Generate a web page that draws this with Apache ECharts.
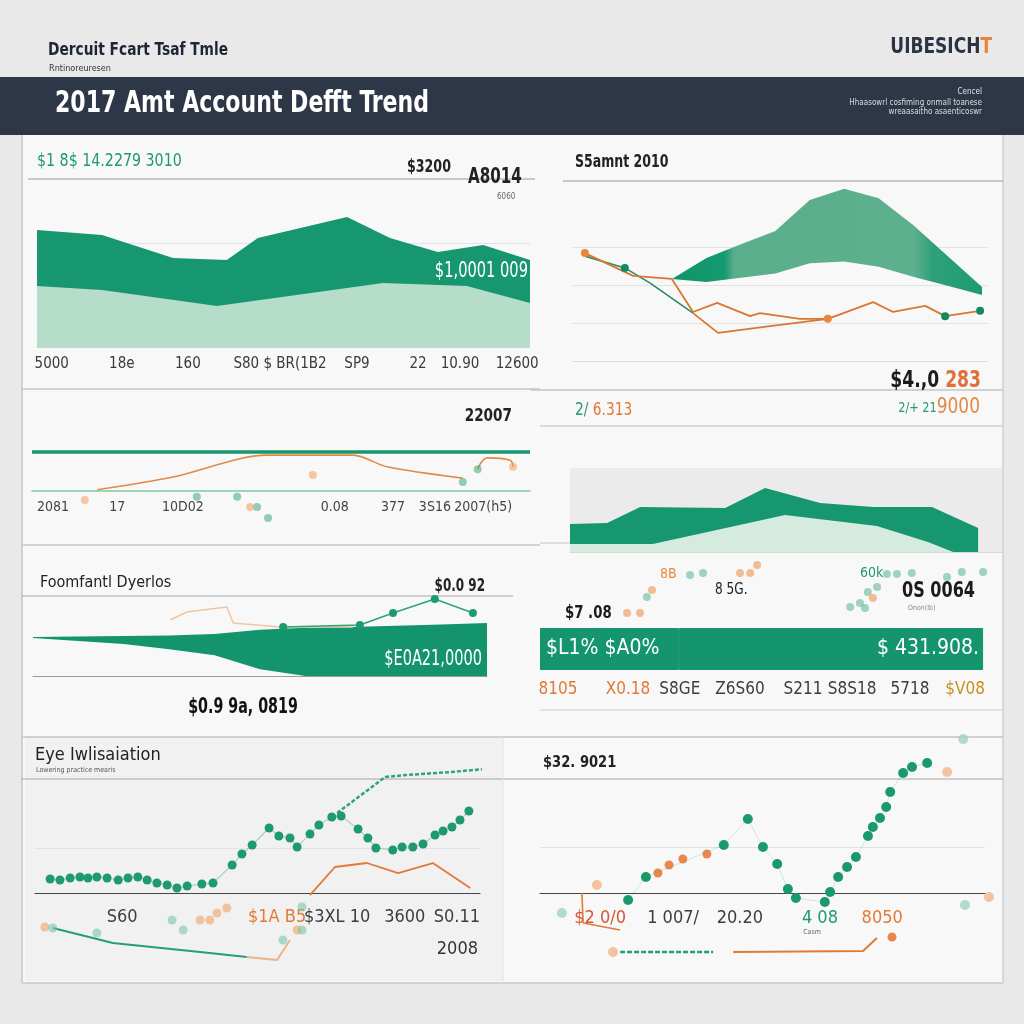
<!DOCTYPE html>
<html><head><meta charset="utf-8">
<script src="https://cdn.jsdelivr.net/npm/echarts@6/dist/echarts.min.js"></script>
<style>html,body{margin:0;padding:0;background:#e9e9ea}#c{width:1024px;height:1024px}</style>
</head><body><div id="c"></div>
<script>
// ---------------- DATA ----------------
// Panel A
const areaA_upper = [[0,74.5],[13.2,71.3],[27.6,56.7],[38.5,55.4],[44.8,69.4],[62.9,82.8],[71.6,69.4],[81.3,60.5],[90.5,65],[100,55.4]];
const areaA_lower = [[0,38.9],[13.2,36.3],[36.5,26.1],[70.2,40.8],[87.2,38.9],[100,28]];
const labelsA = ['5000','18e','160','S80 $ BR(1B2','SP9','22','10.90','12600'];
const labelPosA = [3,17.2,30.6,49.3,64.9,77.3,85.8,97.4];

// Panel B
const bandB_steps = ['b1','b2','b3','b4','b5','b6','b7','b8','b9','b10'];
const bandB_base = [2.16,2.08,2.19,2.30,2.57,2.62,2.48,2.22,1.98,1.74];
const bandB_height = [0,0.63,0.88,1.12,1.67,1.91,1.80,1.36,0.78,0.21];
const lineB_orange = [[3.1,2.84],[14.7,2.24],[24,2.16],[29.1,1.29],[34.9,1.53],[42.8,1.18],[45.2,1.26],[54.8,1.11],[61.5,1.11],[72.4,1.55],[77.2,1.29],[84.9,1.45],[89.7,1.18],[98.1,1.32]];
const lineB_green = [[3.1,2.76],[12.7,2.45],[18.8,2.05],[29.1,1.26]];
const lineB_low = [[29.1,1.26],[35.1,0.74],[47.6,0.92],[61.5,1.11]];
const dotsB_orange = [[3.1,2.84],[61.5,1.11]];
const dotsB_green = [[12.7,2.45],[89.7,1.18],[98.1,1.32]];

// Panel C
const lineC_target = [[0,1],[100,1]];
const lineC_orange = [[13.1,0.03],[28.3,0.36],[47.2,0.92],[64.5,0.92],[71.3,0.62],[86.5,0.33]];
const lineC_tail = [[89.5,0.56],[91.4,0.85],[96,0.79],[96.6,0.62]];
const dotsC_green = [[86.5,0.23],[89.5,0.56],[33.1,-0.15],[41.2,-0.15],[45.2,-0.41],[47.4,-0.69]];
const dotsC_orange = [[43.8,-0.41],[10.6,-0.23],[56.4,0.41],[96.6,0.62]];
const labelsC = ['2081','17','10D02','0.08','377','3S16','2007(h5)'];
const labelPosC = [4.2,17.1,30.3,60.8,72.5,80.9,90.6];

// Panel D
const areaD_upper = [[0,33.3],[9.1,34.5],[17.2,53.6],[38,52.4],[47.8,76.2],[61.3,58.3],[74.3,53.6],[88.7,53.6],[97.3,34.5],[100,28.6]];
const areaD_lower = [[0,9.5],[20.3,9.5],[52.7,44],[75.2,31],[87.7,11.9],[93.9,0],[100,0]];
const dotsD_green = [[35.2,74.3],[32.4,71.4],[23.1,40],[74.9,72.9],[77.1,72.9],[80.3,74.3],[87.9,68.6],[91.1,75.7],[95.7,75.7],[72.8,54.3],[70.8,47.1],[69.1,31.4],[70.2,24.3],[67,25.7]];
const dotsD_orange = [[46.9,85.7],[45.4,74.3],[43.2,74.3],[24.2,50],[18.8,17.1],[21.6,17.1],[71.9,38.6]];

// Horizontal bar
const barSegments = [30, 65.7];
const barTexts = ['$L1% $A0%', '$ 431.908.'];
const labelsBar = ['8105','X0.18','S8GE','Z6S60','S211','S8S18','5718','$V08'];
const labelPosBar = [3.9,19,30.2,43.2,56.8,67.4,79.9,91.8];
const labelColBar = ['o','o','k','k','k','k','k','y'];

// Panel E
const bandE_steps = ['e1','e2','e3','e4','e5','e6','e7','e8','e9','e10','e11'];
const bandE_base = [47.5,43.75,39.9,33.5,25.9,8.4,0,0,0,0,0];
const bandE_height = [1.25,5.65,10.2,17.25,26.7,49.35,60.4,61.1,62.75,64.5,66.25];
const lineE_green = [[55.1,61.25],[72,63.75],[79.3,78.75],[88.5,96.25],[96.9,78.75]];
const lineE_faint = [[30.2,70],[33.9,80],[42.7,86.25],[44.1,66.25],[54.4,61.25],[70.5,61.25]];

// Panel F
const dotsF_green = [[3.4,12.3],[5.6,11.4],[7.9,13.2],[10.1,14],[11.9,13.2],[13.9,14],[16.2,13.2],[18.7,11.4],[20.9,13.2],[23.1,14],[25.2,11.4],[27.4,8.8],[29.7,7],[31.9,4.4],[34.2,6.1],[37.5,7.9],[40,8.8],[44.3,24.6],[46.5,34.2],[48.8,42.1],[52.6,57],[54.8,50],[57.3,48.2],[58.9,40.4],[61.8,51.8],[63.8,59.6],[66.7,66.7],[68.8,67.5],[72.6,56.1],[74.8,48.2],[76.6,39.5],[80.4,37.7],[82.5,40.4],[84.9,40.4],[87.2,43],[89.9,50.9],[91.7,54.4],[93.7,57.9],[95.5,64],[97.5,71.9]];
const lineF_top = [[67.9,70.2],[78.7,101.8],[83.6,103.5],[93.3,106.1],[103.8,109.6]];
const lineF_orange = [[61.8,-1.8],[67.4,22.8],[74.6,26.3],[81.6,17.5],[89.4,26.3],[97.8,4.4]];
const lineF_low = [[4,-30.7],[17.5,-43.9],[37.1,-51.8],[47.6,-56.1]];
const lineF_lowOrange = [[47.6,-56.1],[54.4,-58.8],[57.3,-41.2]];
const dotsF_lightOrange = [[2.2,-29.8],[39.3,-23.7],[37.1,-23.7],[40.9,-17.5],[43.1,-13.2],[58.9,-32.5]];
const dotsF_lightGreen = [[4,-30.7],[13.9,-35.1],[30.8,-23.7],[33.3,-32.5],[60,-32.5],[55.7,-41.2],[60,-12.3]];
const labelsF = ['S60','$1A B5','$3XL 10','3600','S0.11'];
const labelPosF = [19.6,54.4,67.9,83.1,94.8];
const labelColF = ['k','o','k','k','k'];

// Panel G
const dotsG_green = [[19.8,-6.1],[23.8,14],[41.3,42.1],[46.7,64.9],[50.1,40.4],[53.3,25.4],[55.7,3.5],[57.5,-4.4],[64,-7.9],[65.2,0.9],[67,14],[69,22.8],[71,31.6],[73.7,50],[74.8,57.9],[76.4,65.8],[77.8,75.4],[78.7,88.6],[81.6,105.3],[83.6,110.5],[87,114]];
const dotsG_orange = [[26.5,17.5],[29,24.6],[32.1,29.8],[37.5,34.2],[79.1,-38.6]];
const dotsG_lightOrange = [[91.5,106.1],[100.9,-3.5],[12.8,7],[16.4,-51.8]];
const dotsG_lightGreen = [[95.5,-10.5],[4.9,-17.5],[95.1,135]];
const lineG_low = [[18,-51.8],[38.9,-51.8]];
const lineG_lowOrange = [[43.4,-51.8],[72.6,-50.9],[75.7,-39.5]];
const lineG_left = [[9.4,0],[9.7,-26.3],[18,-32.5]];
const labelsG = ['$2 0/0','1 007/','20.20','4 08','8050'];
const labelPosG = [13.5,29.9,44.9,62.9,76.9];
const labelColG = ['r','k','k','g','o'];

// ---------------- CHART ----------------
const F = '"Liberation Sans Narrow","DejaVu Sans Condensed",Roboto,sans-serif';
const GREEN = '#16976f';
const chart = echarts.init(document.getElementById('c'), null, {renderer:'canvas'});
const TR = 'rgba(0,0,0,0)';

function fmt(labels, pos, cols){
  return v => { const i = pos.findIndex(p => Math.abs(p - v) < 1e-6); if (i < 0) return ''; return cols ? '{' + cols[i] + '|' + labels[i] + '}' : labels[i]; };
}
const grids = [], xAxes = [], yAxes = [];
function addGrid(g, x, y){
  const i = grids.length;
  grids.push(Object.assign({containLabel:false, show:false, borderWidth:0}, g));
  xAxes.push(Object.assign({gridIndex:i, type:'value', min:0, max:100, axisTick:{show:false}, splitLine:{show:false}, axisLine:{show:false}, axisLabel:{show:false}}, x));
  yAxes.push(Object.assign({gridIndex:i, type:'value', min:0, max:100, axisTick:{show:false}, splitLine:{show:false}, axisLine:{show:false}, axisLabel:{show:false}}, y));
  return i;
}
const rich = (s) => ({
  o:{color:'#e07a35', fontFamily:F, fontSize:s}, k:{color:'#3d3d3d', fontFamily:F, fontSize:s},
  y:{color:'#c9901e', fontFamily:F, fontSize:s}, r:{color:'#d8553a', fontFamily:F, fontSize:s},
  g:{color:'#1f9a6e', fontFamily:F, fontSize:s}
});
const gA = addGrid({left:37, top:190, width:493, height:157},
  {axisLine:{show:true, lineStyle:{color:'#d3d3d3'}}, axisLabel:{show:true, customValues:labelPosA, formatter:fmt(labelsA,labelPosA), margin:10, fontSize:15, color:'#3a3a3a', fontFamily:F}},
  {interval:33.1, splitLine:{show:true, lineStyle:{color:[TR,TR,'#e3e3e3',TR,TR]}}});
const gB = addGrid({left:572, top:171, width:416, height:190}, {},
  {min:0, max:5, interval:1, splitLine:{show:true, lineStyle:{color:['#dedede','#e3e3e3','#e3e3e3','#e3e3e3',TR,TR]}}});
const gB2 = addGrid({left:672, top:171, width:310, height:190},
  {type:'category', data:bandB_steps, boundaryGap:false, min:null, max:null}, {min:0, max:5});
const gC = addGrid({left:32, top:452, width:498, height:39},
  {axisLine:{show:true, lineStyle:{color:'#7ccaa6', width:1.5}}, axisLabel:{show:true, customValues:labelPosC, formatter:fmt(labelsC,labelPosC), margin:9, fontSize:14, color:'#444', fontFamily:F}},
  {min:0, max:1});
const gD = addGrid({left:570, top:468, width:433, height:84, show:true, backgroundColor:'#ebebeb'},
  {max:106.1, axisLine:{show:true, lineStyle:{color:'#d6d6d6'}}}, {});
const gDd = addGrid({left:540, top:555, width:463, height:70}, {}, {});
const gBar = addGrid({left:540, top:628, width:463, height:42},
  {axisLabel:{show:true, customValues:labelPosBar, formatter:fmt(labelsBar,labelPosBar,labelColBar), margin:11, rich:rich(17)}},
  {type:'category', data:['total'], min:null, max:null, show:false});
const gE = addGrid({left:33, top:596, width:454, height:80},
  {axisLine:{show:true, lineStyle:{color:'#9a9a9a'}}}, {});
const gE2 = addGrid({left:33, top:596, width:454, height:80},
  {type:'category', data:bandE_steps, boundaryGap:false, min:null, max:null}, {});
const gF = addGrid({left:35, top:756.2, width:445, height:136.8},
  {axisLine:{show:true, lineStyle:{color:'#444', width:1.2}}, axisLabel:{show:true, customValues:labelPosF, formatter:fmt(labelsF,labelPosF,labelColF), margin:15, rich:rich(18)}},
  {min:0, max:120, interval:39.5, splitLine:{show:true, lineStyle:{color:[TR,'#e2e2e2',TR,TR,TR]}}});
const gG = addGrid({left:540, top:756.2, width:445, height:136.8},
  {axisLine:{show:true, lineStyle:{color:'#444', width:1.2}}, axisLabel:{show:true, customValues:labelPosG, formatter:fmt(labelsG,labelPosG,labelColG), margin:16, rich:rich(18)}},
  {min:0, max:120, interval:40.4, splitLine:{show:true, lineStyle:{color:[TR,'#e2e2e2',TR,TR,TR]}}});

function S(gi, o){ return Object.assign({xAxisIndex:gi, yAxisIndex:gi, silent:true, animation:false, clip:false}, o); }
function area(gi, data, color, extra){ return S(gi, Object.assign({type:'line', data, symbol:'none', lineStyle:{width:0}, areaStyle:{color, opacity:1}, z:2}, extra)); }
function ln(gi, data, color, w, extra){ return S(gi, Object.assign({type:'line', data, symbol:'none', lineStyle:{color, width:w}, z:3}, extra)); }
function dots(gi, data, color, size, op){ return S(gi, {type:'scatter', data, symbolSize:size, itemStyle:{color, opacity:op==null?1:op}, z:4}); }

const bandGrad = new echarts.graphic.LinearGradient(0,0,1,0,[
  {offset:0,color:'#0f9268'},{offset:0.17,color:'#169a70'},{offset:0.2,color:'#5aae8b'},
  {offset:0.78,color:'#5db08d'},{offset:0.84,color:'#2ea17a'},{offset:1,color:'#1d9a72'}]);

const series = [
  area(gA, areaA_upper, GREEN),
  area(gA, areaA_lower, '#b6dcca', {z:3}),

  area(gB2, bandB_base, TR, {stack:'bandB', areaStyle:{opacity:0}}),
  area(gB2, bandB_height, bandGrad, {stack:'bandB'}),
  ln(gB, lineB_green, '#2d8a67', 1.6),
  ln(gB, lineB_orange, '#d9762f', 1.8),
  ln(gB, lineB_low, '#d9762f', 1.8),
  dots(gB, dotsB_orange, '#e8863f', 8),
  dots(gB, dotsB_green, '#14895f', 8),

  ln(gC, lineC_target, GREEN, 3.5),
  ln(gC, lineC_orange, '#e08a48', 1.6, {smooth:0.3}),
  ln(gC, lineC_tail, '#e08a48', 1.6, {smooth:0.4}),
  dots(gC, dotsC_green, '#3aa77f', 8, 0.55),
  dots(gC, dotsC_orange, '#f0a46a', 8, 0.6),

  area(gD, areaD_upper, GREEN),
  area(gD, areaD_lower, '#d5ebe0', {z:3}),

  dots(gDd, dotsD_green, '#55b58e', 8, 0.55),
  dots(gDd, dotsD_orange, '#ee9a5d', 8, 0.65),

  S(gBar, {type:'bar', stack:'bar', data:[barSegments[0]], barWidth:42, itemStyle:{color:'#14956d', borderColor:'#14956d', borderWidth:1},
    label:{show:true, position:'insideLeft', distance:6, formatter:barTexts[0], color:'#fff', fontSize:21, fontFamily:F}}),
  S(gBar, {type:'bar', stack:'bar', data:[barSegments[1]], barWidth:42, itemStyle:{color:'#14956d', borderColor:'#14956d', borderWidth:1},
    label:{show:true, position:'insideRight', distance:4, formatter:barTexts[1], color:'#fff', fontSize:21, fontFamily:F}}),

  area(gE2, bandE_base, TR, {stack:'bandE', areaStyle:{opacity:0}}),
  area(gE2, bandE_height, '#13946c', {stack:'bandE'}),
  ln(gE, lineE_faint, '#efc6a0', 1.5),
  ln(gE, lineE_green, '#2aa57a', 1.5, {symbol:'circle', symbolSize:8, showSymbol:true, itemStyle:{color:'#1c9b6e'}, z:5}),

  S(gF, {type:'line', data:lineF_top, symbol:'none', lineStyle:{color:'#2aa57a', width:2.5, type:[4,2]}, z:3}),
  ln(gF, lineF_orange, '#e07a35', 1.8),
  ln(gF, dotsF_green, 'rgba(31,154,111,0.35)', 1.2, {symbol:'circle', symbolSize:9, showSymbol:true, itemStyle:{color:'#1e9a6e'}, z:5}),
  ln(gF, lineF_low, '#22a070', 2),
  ln(gF, lineF_lowOrange, '#e8b48a', 2),
  dots(gF, dotsF_lightOrange, '#f0a46a', 9, 0.6),
  dots(gF, dotsF_lightGreen, '#7cc8a6', 9, 0.6),

  ln(gG, lineG_low, '#22a070', 2.5, {lineStyle:{color:'#22a070', width:2.5, type:[5,2]}}),
  ln(gG, lineG_lowOrange, '#e07a35', 2),
  ln(gG, lineG_left, '#e07a35', 1.6),
  ln(gG, dotsG_green, 'rgba(31,154,111,0.2)', 1, {symbol:'circle', symbolSize:10, showSymbol:true, itemStyle:{color:'#1a9a6c'}, z:5}),
  dots(gG, dotsG_orange, '#ec874a', 9),
  dots(gG, dotsG_lightOrange, '#f2b589', 10, 0.8),
  dots(gG, dotsG_lightGreen, '#9fd4c0', 10, 0.8)
];

// ------------- frame / text (layout only) -------------
function T(text, x, y, size, color, o){
  o = o || {};
  return {type:'text', x, y, z:100, silent:true, scaleX:o.sx||1,
    style:{text, fill:color, fontSize:size, fontFamily:F, fontWeight:o.bold?'bold':'normal', align:o.align||'left', verticalAlign:'middle', rich:o.rich}};
}
function L(x1,y1,x2,y2,c,w){ return {type:'line', z:1, silent:true, shape:{x1,y1,x2,y2}, style:{stroke:c, lineWidth:w||1}}; }
function R(x,y,w,h,c,z){ return {type:'rect', z:z==null?-5:z, silent:true, shape:{x,y,width:w,height:h}, style:{fill:c}}; }
const rs = (c, s, b) => ({fill:c, fontSize:s, fontFamily:F, fontWeight:b?'bold':'normal'});

const graphics = [
  R(22,135,981,848,'#f8f8f8',-10),
  R(25,738,478,243,'#f1f1f1',-9),
  R(0,77,1024,58,'#2e3747',-8),
  L(22,135,22,983,'#c4c4c4',1.5), L(1003,135,1003,983,'#d0d0d0',1.5), L(22,983,1003,983,'#c8c8c8',1.5),
  L(28,179,535,179,'#9a9a9a'), L(563,181,1003,181,'#9a9a9a'),
  L(22,389,540,389,'#c6c6c6',1.5), L(530,390,1003,390,'#c6c6c6',1.5), L(540,426,1003,426,'#bdbdbd'),
  L(22,545,540,545,'#c6c6c6',1.5), L(22,596,513,596,'#a5a5a5'), L(540,543,570,543,'#c6c6c6'),
  L(540,710,1003,710,'#d0d0d0'), L(22,737,1003,737,'#c4c4c4',1.5), L(22,779,1003,779,'#a5a5a5'),
  L(503,737,503,983,'#e2e2e2'),

  T('Dercuit Fcart Tsaf Tmle', 48, 51, 17, '#1e2633', {bold:true, sx:0.9}),
  T('Rntinoreuresen', 49, 69, 9, '#333'),
  T('2017 Amt Account Defft Trend', 55, 104, 31, '#ffffff', {bold:true, sx:0.79}),
  T('{k|UIBESICH}{o|T}', 992, 47, 22, '#2b3444', {align:'right', sx:0.86, rich:{k:rs('#2b3444',22,true), o:rs('#e8833a',22,true)}}),
  T('Cencel', 982, 92, 8, '#e5e5e5', {align:'right'}),
  T('Hhaasowrl cosfiming onmall toanese', 982, 103, 8, '#dcdcdc', {align:'right'}),
  T('wreaasaitho asaenticoswr', 982, 112, 8, '#dcdcdc', {align:'right'}),

  T('$1 8$ 14.2279 3010', 37, 162, 17, '#1f9a6e', {sx:0.93}),
  T('$3200', 407, 167, 18, '#222', {bold:true, sx:0.78}),
  T('A8014', 468, 178, 21, '#222', {bold:true, sx:0.8}),
  T('6060', 497, 197, 8, '#666'),
  T('$1,0001 009', 528, 271, 22, '#ffffff', {align:'right', sx:0.74}),

  T('S5amnt 2010', 575, 163, 17, '#222', {bold:true, sx:0.82}),
  T('{k|$4.,0 }{o|283}', 981, 381, 23, '#1b1b1b', {align:'right', sx:0.83, rich:{k:rs('#1b1b1b',23,true), o:rs('#e0703a',23,true)}}),
  T('{g|2/+ 21}{o|9000}', 980, 408, 20, '#e08a48', {align:'right', sx:0.9, rich:{g:rs('#2a9a6e',14,false), o:rs('#e08a48',21,false)}}),
  T('{g|2/ }{o|6.313}', 575, 411, 17, '#e08a48', {sx:0.9, rich:{g:rs('#2a9a6e',17,false), o:rs('#e07a35',17,false)}}),

  T('22007', 512, 416, 18, '#222', {bold:true, align:'right', sx:0.84}),

  T('8B', 660, 574, 14, '#e8883f'),
  T('8 5G.', 715, 590, 15, '#222', {sx:0.9}),
  T('60k', 860, 573, 14, '#1f9a6e'),
  T('0S 0064', 975, 592, 21, '#1b1b1b', {bold:true, align:'right', sx:0.85}),
  T('Onon(lb)', 908, 608, 7, '#888'),
  T('$7 .08', 565, 613, 18, '#1b1b1b', {bold:true, sx:0.82}),

  T('Foomfantl Dyerlos', 40, 583, 16, '#222'),
  T('$0.0 92', 485, 586, 18, '#222', {bold:true, align:'right', sx:0.74}),
  T('$E0A21,0000', 482, 660, 21, '#ffffff', {align:'right', sx:0.77}),
  T('$0.9 9a, 0819', 243, 707, 22, '#111', {bold:true, align:'center', sx:0.72}),

  T('Eye Iwlisaiation', 35, 755, 18, '#222'),
  T('Lowering practice mearis', 36, 770, 7, '#555'),
  T('2008', 478, 949, 18, '#333', {align:'right'}),

  T('$32. 9021', 543, 763, 16, '#222', {bold:true, sx:0.91}),
  T('Casm', 812, 932, 7, '#666', {align:'center'})
];

chart.setOption({
  backgroundColor:'#e9e9ea',
  animation:false,
  grid:grids, xAxis:xAxes, yAxis:yAxes,
  series,
  graphic:{elements:graphics}
});
</script>
</body></html>
